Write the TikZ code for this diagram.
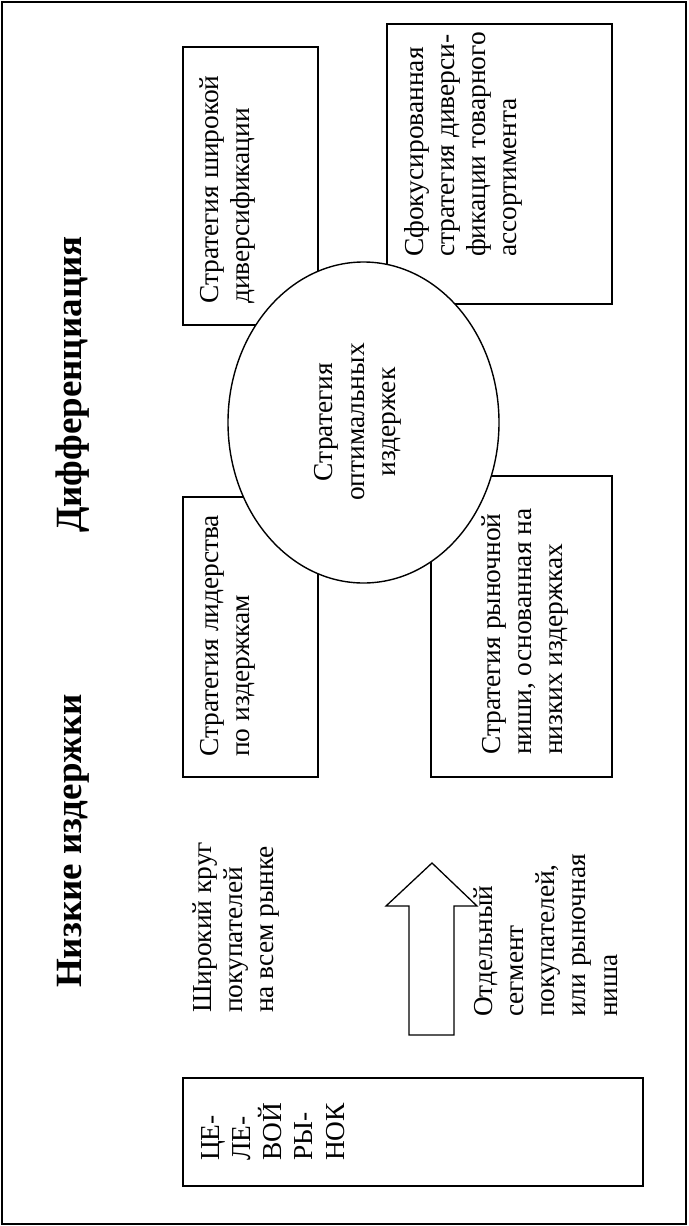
\documentclass[tikz,border=0pt]{standalone}
\usepackage{fontspec}
\setmainfont{Liberation Serif}
\usetikzlibrary{shapes.geometric}
\newcommand\linesL[1]{\vtop{\halign{##\hfil\cr#1\crcr}}}
\newcommand\linesC[1]{\vtop{\halign{\hfil##\hfil\cr#1\crcr}}}
\begin{document}
\begin{tikzpicture}[x=1pt,y=-1pt,
  box/.style={draw, line width=1.3pt, rectangle, inner sep=0pt},
  oval/.style={draw, line width=1.4pt, ellipse, fill=white, inner sep=0pt},
  txt/.style={rotate=90, anchor=base west, inner sep=0pt, font=\fontsize{27.4}{31.3}\selectfont},
  ttl/.style={rotate=90, anchor=base west, inner sep=0pt, font=\fontsize{37}{40}\selectfont\bfseries}]
\useasboundingbox (0,0) rectangle (688,1226);
\draw[line width=2.2pt] (2,2) rectangle (686,1224);
% boxes
\node[box, minimum width=135pt, minimum height=278pt] (b1) at (250.5,186) {};
\node[box, minimum width=225pt, minimum height=280pt] (b2) at (499.5,164) {};
\node[box, minimum width=135pt, minimum height=280pt] (b3) at (250.5,637) {};
\node[box, minimum width=181pt, minimum height=301pt] (b4) at (521.5,626.5) {};
\node[box, minimum width=460pt, minimum height=108pt] (b5) at (413,1132) {};
\node[oval, minimum width=271pt, minimum height=321pt] (e) at (363.5,422.5) {};
% arrow
\draw[line width=1.3pt, fill=white] (432,863) -- (477,906) -- (454,906) -- (454,1035) -- (409,1035) -- (409,906) -- (386,906) -- cycle;
% texts
\node[txt] (t1) at (218,304) {\linesL{Стратегия широкой\cr диверсификации}};
\node[txt] (t2) at (423,257) {\linesL{Сфокусированная\cr стратегия диверси-\cr фикации товарного\cr ассортимента}};
\node[txt, anchor=center] (t3) at (358,422) {\linesC{Стратегия\cr оптимальных\cr издержек}};
\node[txt] (t4) at (218,757) {\linesL{Стратегия лидерства\cr по издержкам}};
\node[txt] (t5) at (500,755) {\linesL{Стратегия рыночной\cr ниши, основанная на\cr низких издержках}};
\node[txt] (t6) at (211,1013) {\linesL{Широкий круг\cr покупателей\cr на всем рынке}};
\node[txt] (t7) at (492,1017) {\linesL{Отдельный\cr сегмент\cr покупателей,\cr или рыночная\cr ниша}};
\node[txt] (t8) at (219,1161) {\linesL{ЦЕ-\cr ЛЕ-\cr ВОЙ\cr РЫ-\cr НОК}};
\node[ttl] (h1) at (81,988) {Низкие издержки};
\node[ttl] (h2) at (81,533) {Дифференциация};
\end{tikzpicture}
\end{document}
